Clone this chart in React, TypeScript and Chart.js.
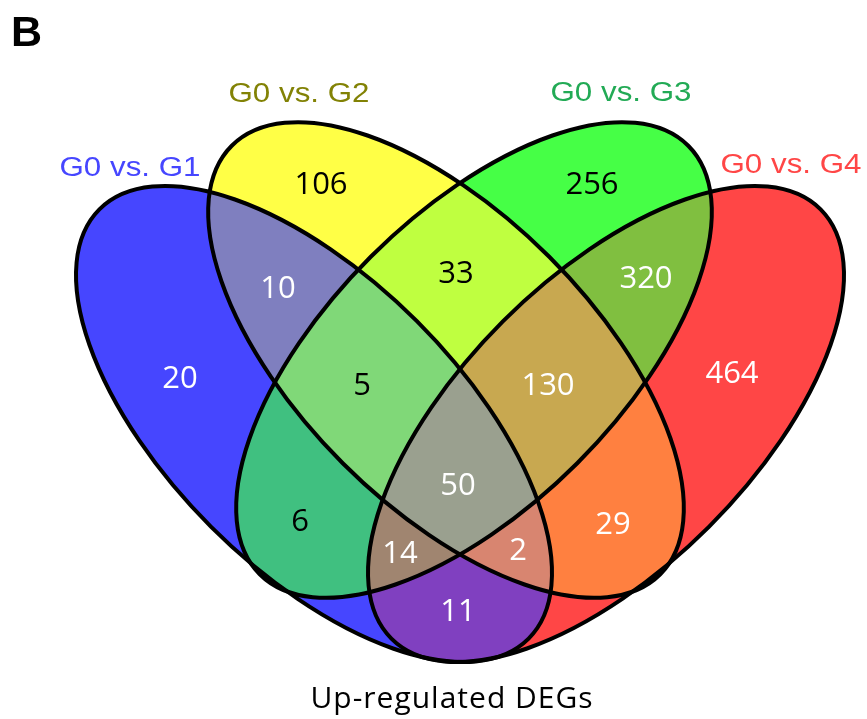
import React, { useEffect, useRef } from 'react';
import { Chart, registerables } from 'chart.js';

Chart.register(...registerables);

// Four comparison sets
const setNames = ['G0 vs. G1', 'G0 vs. G2', 'G0 vs. G3', 'G0 vs. G4'];
const setNameColors = ['#4646FF', '#828205', '#22AA55', '#FF4646'];

// Ellipse geometry in diagram units (x to the right, y downward); tilt in degrees
const ellipseCx = [314, 446, 474, 606];
const ellipseCy = [424, 360, 360, 424];
const ellipseRx = [303.5, 303, 303, 303.5];
const ellipseRy = [145.5, 146, 146, 145.5];
const ellipseTilt = [45, 45, -45, -45];

// Regions: membership bits G1=1, G2=2, G3=4, G4=8
const regionSets = [1, 2, 4, 8, 3, 6, 12, 7, 14, 15, 5, 10, 13, 11, 9];
const regionCounts = [20, 106, 256, 464, 10, 33, 320, 5, 130, 50, 6, 29, 14, 2, 11];
const regionFills = [
  '#4646FF', '#FFFF46', '#46FF46', '#FF4646',
  '#7F7FBF', '#BFFF40', '#80BF40', '#80D878',
  '#C8A850', '#9AA08F', '#40C080', '#FF8040',
  '#A08570', '#D88570', '#8040C0',
];
const regionTextColors = [
  '#FFFFFF', '#000000', '#000000', '#FFFFFF',
  '#FFFFFF', '#000000', '#FFFFFF', '#000000',
  '#FFFFFF', '#FFFFFF', '#000000', '#FFFFFF',
  '#FFFFFF', '#FFFFFF', '#FFFFFF',
];
// Count label anchors, diagram units
const regionLabelX = [180, 321, 592, 732, 278, 456, 646, 362, 548, 458, 300, 613, 400, 518, 458];
const regionLabelY = [377, 183, 183, 372, 287, 272, 277, 384, 384, 484, 520, 523, 552, 549, 610];

// Set name anchors (centre x, baseline y), diagram units
const setLabelX = [130, 299, 621, 791];
const setLabelY = [176, 102, 101, 173];

const panelLetter = 'B';
const caption = 'Up-regulated DEGs';

const W = 867;
const H = 719;

const vennPlugin = {
  id: 'vennEllipses',
  beforeDatasetsDraw(chart: any) {
    const { ctx, chartArea, scales } = chart;
    const xs = scales.x;
    const ys = scales.y;

    const geom = (i: number) => {
      const cx = xs.getPixelForValue(ellipseCx[i]);
      const cy = ys.getPixelForValue(ellipseCy[i]);
      const rx = Math.abs(xs.getPixelForValue(ellipseCx[i] + ellipseRx[i]) - cx);
      const ry = Math.abs(ys.getPixelForValue(ellipseCy[i] + ellipseRy[i]) - cy);
      const rot = (ellipseTilt[i] * Math.PI) / 180;
      return { cx, cy, rx, ry, rot };
    };
    const addEllipse = (i: number) => {
      const g = geom(i);
      ctx.moveTo(g.cx + g.rx * Math.cos(g.rot), g.cy + g.rx * Math.sin(g.rot));
      ctx.ellipse(g.cx, g.cy, g.rx, g.ry, g.rot, 0, Math.PI * 2);
    };

    // fill every region: inside its member ellipses, outside the others
    regionSets.forEach((mask, r) => {
      ctx.save();
      for (let i = 0; i < 4; i++) {
        ctx.beginPath();
        if (mask & (1 << i)) {
          addEllipse(i);
          ctx.clip();
        } else {
          ctx.rect(0, 0, chart.width, chart.height);
          addEllipse(i);
          ctx.clip('evenodd');
        }
      }
      ctx.fillStyle = regionFills[r];
      ctx.fillRect(chartArea.left, chartArea.top, chartArea.right - chartArea.left, chartArea.bottom - chartArea.top);
      ctx.restore();
    });

    // outlines
    ctx.save();
    ctx.strokeStyle = '#000000';
    ctx.lineWidth = 4;
    for (let i = 0; i < 4; i++) {
      ctx.beginPath();
      addEllipse(i);
      ctx.stroke();
    }
    ctx.restore();
  },
  afterDatasetsDraw(chart: any) {
    const { ctx, scales } = chart;
    const meta = chart.getDatasetMeta(0);
    ctx.save();
    const fs = 31;
    ctx.font = `${fs}px "Open Sans"`;
    ctx.textAlign = 'center';
    ctx.textBaseline = 'alphabetic';
    meta.data.forEach((pt: any, i: number) => {
      ctx.fillStyle = regionTextColors[i];
      ctx.fillText(String(regionCounts[i]), pt.x, pt.y + fs * 0.36);
    });

    // set names
    const sfs = 27;
    ctx.font = `${sfs}px "Liberation Sans"`;
    setNames.forEach((name, i) => {
      const x = scales.x.getPixelForValue(setLabelX[i]);
      const y = scales.y.getPixelForValue(setLabelY[i]);
      ctx.save();
      ctx.translate(x, y);
      ctx.scale(1.16, 1);
      ctx.fillStyle = setNameColors[i];
      ctx.fillText(name, 0, 0);
      ctx.restore();
    });

    // panel letter
    ctx.fillStyle = '#000000';
    ctx.textAlign = 'left';
    ctx.font = 'bold 43px "Liberation Sans"';
    ctx.fillText(panelLetter, 11, 46);

    // caption
    ctx.textAlign = 'center';
    ctx.font = '30px "Open Sans"';
    (ctx as any).letterSpacing = '1px';
    ctx.fillText(caption, scales.x.getPixelForValue(452), scales.y.getPixelForValue(708));
    ctx.restore();
  },
};

export default function App() {
  const canvasRef = useRef<HTMLCanvasElement | null>(null);

  useEffect(() => {
    document.body.style.margin = '0';
    const canvas = canvasRef.current;
    if (!canvas) return;
    const chart = new Chart(canvas, {
      type: 'scatter',
      data: {
        datasets: [
          {
            label: 'region counts',
            data: regionLabelX.map((x, i) => ({ x, y: regionLabelY[i] })),
            pointRadius: 0,
            pointHoverRadius: 0,
            showLine: false,
          },
        ],
      },
      options: {
        responsive: false,
        maintainAspectRatio: false,
        animation: false,
        devicePixelRatio: 1,
        events: [],
        layout: { padding: 0 },
        scales: {
          x: { type: 'linear', min: 0, max: W, display: false },
          y: { type: 'linear', min: 0, max: H, reverse: true, display: false },
        },
        plugins: {
          legend: { display: false },
          tooltip: { enabled: false },
          title: { display: false },
        },
      },
      plugins: [vennPlugin],
    });
    return () => chart.destroy();
  }, []);

  return (
    <div style={{ position: 'absolute', left: 0, top: 0, width: W, height: H, background: '#ffffff' }}>
      <canvas ref={canvasRef} width={W} height={H} style={{ width: W, height: H }} />
    </div>
  );
}
